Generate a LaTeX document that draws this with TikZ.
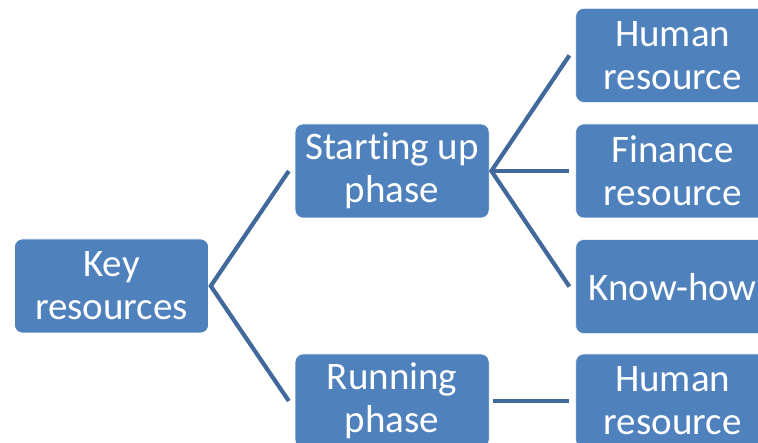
\documentclass[tikz,border=0pt]{standalone}
\usepackage{fontspec}
\setmainfont[Ligatures=NoCommon]{Carlito}
\usepackage{tikz}
\usetikzlibrary{positioning}
\definecolor{boxblue}{HTML}{4F81BD}
\definecolor{lineblue}{HTML}{41699C}
\tikzstyle{resbox} = [rectangle, rounded corners=8pt, minimum width=194pt, minimum height=94pt, inner sep=0pt, align=center, text=white, fill=boxblue, draw=white, line width=0.6pt, font=\fontsize{39}{43}\selectfont]
\tikzstyle{link} = [draw=lineblue, line width=4.2pt]

\begin{document}
\begin{tikzpicture}[node distance=86pt]
\useasboundingbox (-111.5pt,-157pt) rectangle (646.5pt,286pt);
\clip (-111.5pt,-157pt) rectangle (646.5pt,286pt);
\node (key) [resbox] at (0,0) {Key\\resources};
\node (start) [resbox, right=of key, yshift=115pt] {Starting up\\phase};
\node (run) [resbox, right=of key, yshift=-115pt] {Running\\phase};
\node (finance) [resbox, right=of start] {Finance\\resource};
\node (human) [resbox, above=21pt of finance] {Human\\resource};
\node (know) [resbox, below=21pt of finance] {Know-how};
\node (humanrun) [resbox, right=of run] {Human\\resource};

\draw [link] ([xshift=-6pt]start.west) -- ([xshift=2pt]key.east) -- ([xshift=-6pt]run.west);
\draw [link] ([xshift=-6pt]human.west) -- ([xshift=2pt]start.east) -- ([xshift=-6pt]know.west);
\draw [link] ([xshift=2pt]start.east) -- ([xshift=-6pt]finance.west);
\draw [link] ([xshift=4pt]run.east) -- ([xshift=-6pt]humanrun.west);
\end{tikzpicture}
\end{document}
